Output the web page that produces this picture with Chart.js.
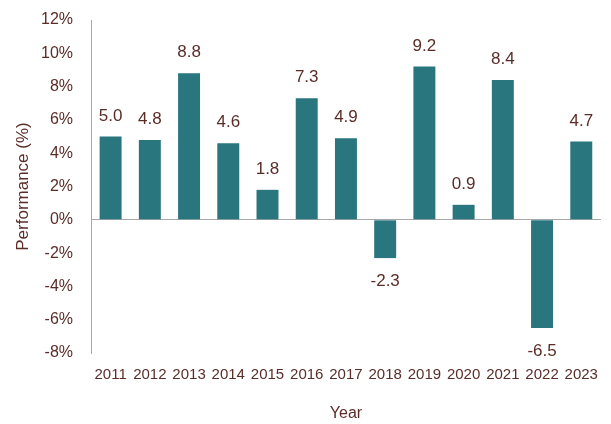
<!DOCTYPE html>
<html><head><meta charset="utf-8">
<script src="https://cdn.jsdelivr.net/npm/chart.js@4"></script>
<style>html,body{margin:0;padding:0;background:#fff}#wrap{width:611px;height:424px}</style>
</head><body><div id="wrap"><canvas id="c"></canvas></div>
<script>
const years = ['2011','2012','2013','2014','2015','2016','2017','2018','2019','2020','2021','2022','2023'];
const performance = [5.0, 4.8, 8.8, 4.6, 1.8, 7.3, 4.9, -2.3, 9.2, 0.9, 8.4, -6.5, 4.7];
const yTicks = [-8, -6, -4, -2, 0, 2, 4, 6, 8, 10, 12];

const txt = '#5a2d28';
const FONT = '"Liberation Sans", Arial, sans-serif';

const labelPlugin = {
  id: 'barLabels',
  afterDatasetsDraw(chart) {
    const ctx = chart.ctx;
    const meta = chart.getDatasetMeta(0);
    ctx.save();
    ctx.font = '17px ' + FONT;
    ctx.fillStyle = txt;
    ctx.textAlign = 'center';
    meta.data.forEach((bar, i) => {
      const v = performance[i];
      const s = v.toFixed(1);
      if (v >= 0) {
        ctx.textBaseline = 'bottom';
        ctx.fillText(s, bar.x, bar.y - 12);
      } else {
        ctx.textBaseline = 'top';
        ctx.fillText(s, bar.x, bar.y + 15);
      }
    });
    ctx.restore();
  }
};

new Chart(document.getElementById('c'), {
  type: 'bar',
  data: {
    labels: years,
    datasets: [{
      data: performance,
      backgroundColor: '#29767f',
      borderWidth: 0,
      categoryPercentage: 1,
      barPercentage: 0.56
    }]
  },
  options: {
    responsive: true,
    maintainAspectRatio: false,
    animation: false,
    layout: { padding: { top: 20, right: 1, left: 4, bottom: 0 } },
    plugins: { legend: { display: false }, tooltip: { enabled: false } },
    scales: {
      x: {
        afterFit(axis) { axis.height = 71; },
        grid: { display: false, drawTicks: false },
        border: { display: false },
        ticks: { color: txt, font: { family: FONT, size: 15 }, padding: 13, maxRotation: 0, autoSkip: false },
        title: { display: true, text: 'Year', color: txt, font: { family: FONT, size: 16 }, padding: { top: 10, bottom: 1 } }
      },
      y: {
        min: -8, max: 12,
        afterFit(axis) { axis.width = 87; axis.paddingTop = 0; axis.paddingBottom = 0; },
        afterBuildTicks(axis) { axis.ticks = yTicks.map(v => ({ value: v })); },
        grid: {
          drawTicks: false,
          color: c => (c.tick && c.tick.value === 0) ? '#a8a8a8' : 'rgba(0,0,0,0)',
          lineWidth: 1
        },
        border: { display: true, color: '#a8a8a8', width: 1 },
        ticks: { color: txt, font: { family: FONT, size: 16 }, padding: 18, callback: v => v + '%' },
        title: { display: true, text: 'Performance (%)', color: txt, font: { family: FONT, size: 17 }, padding: { top: 9, bottom: 2 } }
      }
    }
  },
  plugins: [labelPlugin]
});
</script></body></html>
